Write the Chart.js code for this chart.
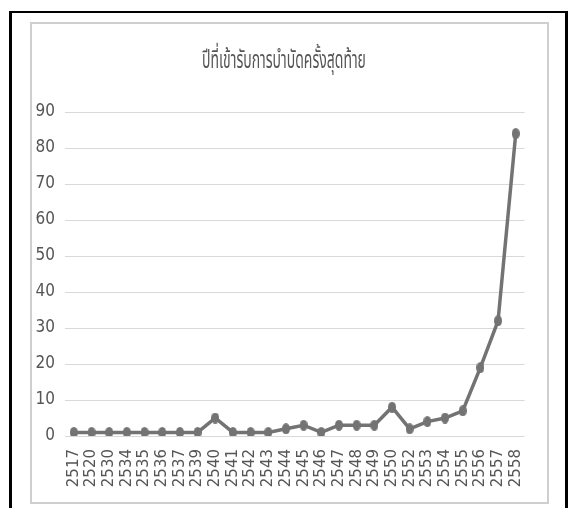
<!DOCTYPE html>
<html>
<head>
<meta charset="utf-8">
<script src="https://cdn.jsdelivr.net/npm/chart.js@4.4.1/dist/chart.umd.min.js"></script>
<style>
  html, body { margin: 0; padding: 0; background: #fff; }
  body { width: 571px; height: 508px; position: relative; overflow: hidden; }
  #frame { position: absolute; left: 9px; top: 11px; width: 559px; height: 510px;
           border-left: 3px solid #000; border-right: 3px solid #000; border-top: 2px solid #000; box-sizing: border-box; }
  #box { position: absolute; left: 30px; top: 22px; width: 519px; height: 482px;
         border: 2px solid #cfcfcf; box-sizing: border-box; }
  #c { position: absolute; left: 32px; top: 24px; }
</style>
</head>
<body>
<div id="frame"></div>
<div id="box"></div>
<canvas id="c" width="515" height="478"></canvas>
<script>
const chartTitle = 'ปีที่เข้ารับการบำบัดครั้งสุดท้าย';
const years = ['2517','2520','2530','2534','2535','2536','2537','2539','2540','2541','2542','2543','2544',
               '2545','2546','2547','2548','2549','2550','2552','2553','2554','2555','2556','2557','2558'];
const counts = [1,1,1,1,1,1,1,1,5,1,1,1,2,3,1,3,3,3,8,2,4,5,7,19,32,84];
const yTicks = [0,10,20,30,40,50,60,70,80,90];

const grey = '#737373';
const textGrey = '#555555';

// oval marker
function makeMarker(w, h, color) {
  const m = document.createElement('canvas');
  m.width = w; m.height = h;
  const g = m.getContext('2d');
  g.fillStyle = color;
  g.beginPath();
  g.ellipse(w / 2, h / 2, w / 2, h / 2, 0, 0, Math.PI * 2);
  g.fill();
  return m;
}
const marker = makeMarker(8, 11, grey);

// condensed title drawn above the plot
const condensedTitle = {
  id: 'condensedTitle',
  afterDraw(chart) {
    const ctx = chart.ctx;
    ctx.save();
    ctx.fillStyle = textGrey;
    ctx.font = '25px "Noto Sans Thai", "Noto Sans", sans-serif';
    ctx.textAlign = 'center';
    ctx.textBaseline = 'alphabetic';
    const sx = 0.56;
    ctx.translate(252, 44);
    ctx.scale(sx, 1);
    ctx.fillText(chartTitle, 0, 0);
    ctx.restore();
  }
};

new Chart(document.getElementById('c'), {
  type: 'line',
  data: {
    labels: years,
    datasets: [{
      data: counts,
      borderColor: grey,
      borderWidth: 3.5,
      pointStyle: marker,
      pointRadius: 5,
      tension: 0,
      fill: false
    }]
  },
  options: {
    responsive: false,
    animation: false,
    layout: { padding: { left: 0, right: 14, top: 88, bottom: 0 } },
    plugins: { legend: { display: false }, tooltip: { enabled: false }, title: { display: false } },
    scales: {
      x: {
        offset: true,
        grid: { display: false, drawTicks: false },
        border: { display: false },
        ticks: { minRotation: 90, maxRotation: 90, autoSkip: false, padding: 13,
                 color: textGrey, font: { family: '"DejaVu Sans"', size: 15 } },
        afterFit(s) { s.height = 66; }
      },
      y: {
        min: 0, max: 90,
        afterBuildTicks(s) { s.ticks = yTicks.map(v => ({ value: v })); },
        grid: { color: '#d9d9d9', lineWidth: 1, drawTicks: false },
        border: { display: false },
        ticks: { padding: 10, color: textGrey,
                 font: { family: '"Liberation Sans Narrow", "DejaVu Sans Condensed", "Liberation Sans"', size: 17 } },
        afterFit(s) { s.width = 33; }
      }
    }
  },
  plugins: [condensedTitle]
});
</script>
</body>
</html>
